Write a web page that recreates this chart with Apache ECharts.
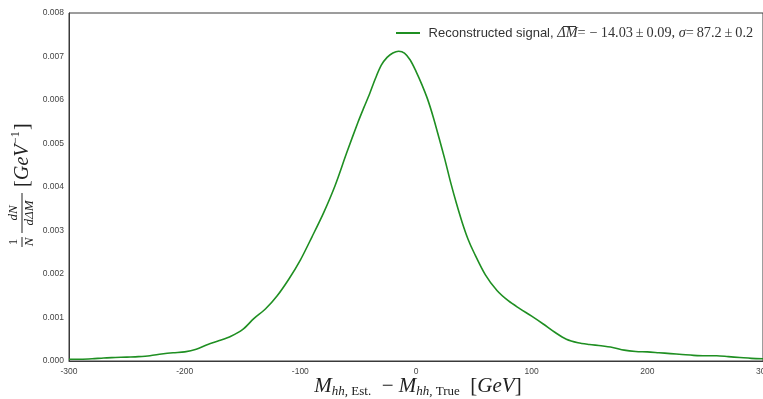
<!DOCTYPE html>
<html>
<head>
<meta charset="utf-8">
<script src="https://cdn.jsdelivr.net/npm/echarts@6/dist/echarts.min.js"></script>
<style>
  html, body { margin: 0; padding: 0; background: #fff; }
  #chart { width: 763px; height: 399px; }
</style>
</head>
<body>
<div id="chart"></div>
<script>
// Mass difference (GeV) and normalised density of the reconstructed signal
const deltaM = [
  -300, -290, -280, -270, -260, -250, -240, -230, -220, -210,
  -200, -190, -180, -170, -160, -150, -140, -130, -120, -110,
  -100, -90, -80, -70, -60, -50, -45, -40, -35, -30,
  -25, -20, -15, -10, -5, 0, 5, 10, 15, 20,
  25, 30, 35, 40, 45, 50, 60, 70, 80, 90,
  100, 110, 120, 130, 140, 150, 160, 170, 180, 190,
  200, 210, 220, 230, 240, 250, 260, 270, 280, 290,
  300
];
const density = [
  0.00004, 0.00004, 0.00005, 0.00007, 0.00008, 0.00009, 0.00010, 0.00012, 0.00016, 0.00019,
  0.00021, 0.00027, 0.00038, 0.00047, 0.00057, 0.00072, 0.00098, 0.00120, 0.00150, 0.00188,
  0.00232, 0.00285, 0.00340, 0.00403, 0.00478, 0.00550, 0.00583, 0.00615, 0.00650, 0.00680,
  0.00698, 0.00708, 0.00712, 0.00708, 0.00692, 0.00666, 0.00636, 0.00602, 0.00560, 0.00512,
  0.00463, 0.00410, 0.00362, 0.00318, 0.00280, 0.00250, 0.00198, 0.00162, 0.00138, 0.00120,
  0.00103, 0.00085, 0.00066, 0.00050, 0.00042, 0.00038, 0.00035, 0.00031, 0.00025, 0.00022,
  0.00021, 0.00019, 0.00017, 0.00015, 0.00013, 0.00012, 0.00012, 0.00010, 0.00008, 0.00006,
  0.00005
];
const xTicks = { min: -300, max: 300, step: 100 };
const yTicks = { min: 0, max: 0.008, step: 0.001 };
const seriesName = 'Reconstructed signal';

const chart = echarts.init(document.getElementById('chart'), null, { renderer: 'canvas' });

const serif = 'Liberation Serif';
const sans = 'Liberation Sans';
const green = '#1f8f22';
const ink = '#222';

const points = deltaM.map((x, i) => [x, density[i]]);

// math-style rich text pieces for the axis titles
const mathRich = {
  m: { fontFamily: serif, fontStyle: 'italic', fontSize: 21, fill: ink, lineHeight: 24, verticalAlign: 'middle' },
  u: { fontFamily: serif, fontSize: 21, fill: ink, lineHeight: 24, verticalAlign: 'middle' },
  s: { fontFamily: serif, fontStyle: 'italic', fontSize: 13, fill: ink, lineHeight: 12, verticalAlign: 'bottom' },
  r: { fontFamily: serif, fontSize: 13, fill: ink, lineHeight: 12, verticalAlign: 'bottom' }
};

chart.setOption({
  animation: false,
  backgroundColor: '#fff',
  grid: {
    left: 69, right: 0, top: 13, bottom: 38,
    outerBoundsMode: 'none',
    containLabel: false,
    show: true, borderColor: '#3a3a3a', borderWidth: 1, backgroundColor: 'transparent'
  },
  legend: {
    left: 391, top: 21,
    itemWidth: 24, itemHeight: 2,
    data: [{ name: seriesName, icon: 'rect' }],
    formatter: () => ' Reconstructed signal, {o|\u0394\u0305M\u0305}{m|= \u2212 14.03\u2009\u00b1\u20090.09, }{i|\u03c3}{m|=\u200987.2\u2009\u00b1\u20090.2}',
    textStyle: {
      fontFamily: sans, fontSize: 13, color: '#333',
      rich: {
        o: { fontFamily: serif, fontStyle: 'italic', fontSize: 14.3, color: '#333' },
        m: { fontFamily: serif, fontSize: 14.3, color: '#333' },
        i: { fontFamily: serif, fontStyle: 'italic', fontSize: 14.3, color: '#333' }
      }
    }
  },
  xAxis: {
    type: 'value',
    min: xTicks.min, max: xTicks.max, interval: xTicks.step,
    axisLine: { show: true, onZero: false, lineStyle: { color: '#3a3a3a', width: 1 } },
    axisTick: { show: false },
    splitLine: { show: false },
    axisLabel: { fontFamily: sans, fontSize: 8.5, color: '#444', margin: 6, showMaxLabel: true }
  },
  yAxis: {
    type: 'value',
    min: yTicks.min, max: yTicks.max, interval: yTicks.step,
    axisLine: { show: true, onZero: false, lineStyle: { color: '#3a3a3a', width: 1 } },
    axisTick: { show: false },
    splitLine: { show: false },
    axisLabel: {
      fontFamily: sans, fontSize: 8.5, color: '#444', margin: 5,
      formatter: v => v.toFixed(3)
    }
  },
  graphic: [{
    // x-axis title
    type: 'text',
    x: 418, y: 386,
    style: {
      text: '{m|M}{s|hh, }{r|Est.}{u|  \u2212 }{m|M}{s|hh, }{r|True}{u|  [}{m|GeV}{u|]}',
      rich: mathRich,
      align: 'center', verticalAlign: 'middle'
    }
  }, {
    // y-axis title, drawn rotated
    type: 'group',
    x: 22, y: 192,
    rotation: Math.PI / 2,
    children: [
      { type: 'text', x: -50, y: -8, style: { text: '1', font: '13px "Liberation Serif"', fill: ink, align: 'center', verticalAlign: 'middle' } },
      { type: 'line', shape: { x1: -55, y1: 0, x2: -45, y2: 0 }, style: { stroke: ink, lineWidth: 1 } },
      { type: 'text', x: -50, y: 8, style: { text: 'N', font: 'italic 13px "Liberation Serif"', fill: ink, align: 'center', verticalAlign: 'middle' } },
      { type: 'text', x: -21, y: -8, style: { text: 'dN', font: 'italic 13px "Liberation Serif"', fill: ink, align: 'center', verticalAlign: 'middle' } },
      { type: 'line', shape: { x1: -41, y1: 0, x2: -1, y2: 0 }, style: { stroke: ink, lineWidth: 1 } },
      { type: 'text', x: -21, y: 8, style: { text: 'd\u0394M', font: 'italic 13px "Liberation Serif"', fill: ink, align: 'center', verticalAlign: 'middle' } },
      { type: 'text', x: 5, y: 1, style: { text: '[', font: '20px "Liberation Serif"', fill: ink, align: 'left', verticalAlign: 'middle' } },
      { type: 'text', x: 12, y: 1, style: { text: 'GeV', font: 'italic 20px "Liberation Serif"', fill: ink, align: 'left', verticalAlign: 'middle' } },
      { type: 'text', x: 48, y: -6, style: { text: '\u22121', font: '12px "Liberation Serif"', fill: ink, align: 'left', verticalAlign: 'middle' } },
      { type: 'text', x: 62, y: 1, style: { text: ']', font: '20px "Liberation Serif"', fill: ink, align: 'left', verticalAlign: 'middle' } }
    ]
  }],
  series: [{
    name: seriesName,
    type: 'line',
    data: points,
    smooth: 0.3,
    showSymbol: false,
    symbol: 'none',
    lineStyle: { color: green, width: 1.6 },
    itemStyle: { color: green }
  }]
});
</script>
</body>
</html>
